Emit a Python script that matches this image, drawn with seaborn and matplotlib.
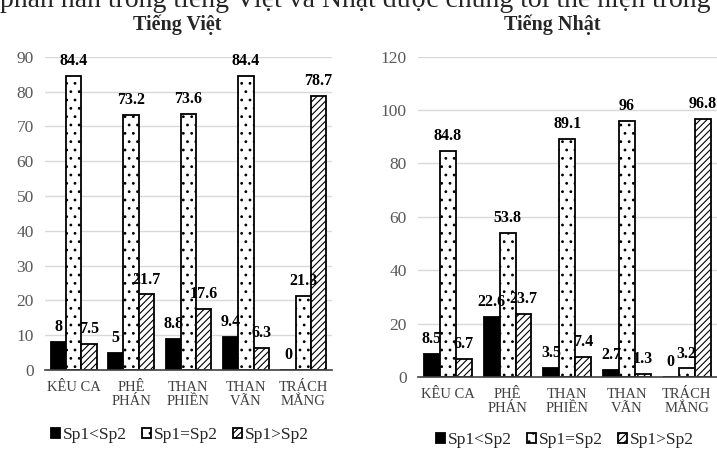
import matplotlib
matplotlib.use("Agg")
import matplotlib.pyplot as plt
import seaborn as sns
import pandas as pd

categories = ["KÊU CA", "PHÊ\nPHÁN", "THAN\nPHIỀN", "THAN\nVÃN", "TRÁCH\nMẮNG"]
series = ["Sp1<Sp2", "Sp1=Sp2", "Sp1>Sp2"]

viet_lt = [8, 5, 8.8, 9.4, 0]
viet_eq = [84.4, 73.2, 73.6, 84.4, 21.3]
viet_gt = [7.5, 21.7, 17.6, 6.3, 78.7]

nhat_lt = [8.5, 22.6, 3.5, 2.7, 0]
nhat_eq = [84.8, 53.8, 89.1, 96, 3.2]
nhat_gt = [6.7, 23.7, 7.4, 1.3, 96.8]

title_left = "Tiếng Việt"
title_right = "Tiếng Nhật"
top_text = "phàn nàn trong tiếng Việt và Nhật được chúng tôi thể hiện trong"

sns.set_theme(style="white")
plt.rcParams["font.family"] = ["Liberation Serif", "DejaVu Serif"]
plt.rcParams["hatch.linewidth"] = 0.8

def long_df(lt, eq, gt):
    rows = []
    for s, vals in zip(series, [lt, eq, gt]):
        for c, v in zip(categories, vals):
            rows.append({"cat": c, "series": s, "value": v})
    return pd.DataFrame(rows)

W, H = 717, 449
fig = plt.figure(figsize=(W / 100, H / 100), dpi=100)

ax1 = fig.add_axes([45 / W, 1 - 370 / H, (332 - 45) / W, (370 - 56.7) / H])
ax2 = fig.add_axes([418 / W, 1 - 377 / H, (716.5 - 418) / W, (377 - 56.7) / H])

palette = ["black", "white", "white"]
hatches = ["", "..", "/////"]

def draw(ax, df, ymax, step, legend_xy):
    sns.barplot(data=df, x="cat", y="value", hue="series", palette=palette,
                order=categories, hue_order=series, width=0.8, gap=0,
                edgecolor="black", linewidth=1.3, ax=ax, legend=False, saturation=1)
    for cont, h in zip(ax.containers, hatches):
        for p in cont.patches:
            p.set_hatch(h)
            p.set_edgecolor("black")
        ax.bar_label(cont, labels=[f"{v:g}" for v in cont.datavalues], padding=5,
                     fontsize=11.5, fontweight="bold", color="black")
    ax.set_ylim(0, ymax)
    ax.set_yticks(range(0, ymax + 1, step))
    ax.yaxis.grid(True, color="#d9d9d9", linewidth=1)
    ax.set_axisbelow(True)
    ax.set_xlabel("")
    ax.set_ylabel("")
    for s in ["top", "right", "left"]:
        ax.spines[s].set_visible(False)
    ax.spines["bottom"].set_color("#404040")
    ax.spines["bottom"].set_linewidth(1.2)
    ax.tick_params(axis="y", labelsize=12.5, colors="#595959", length=0, pad=8)
    ax.tick_params(axis="x", labelsize=10.5, colors="#404040", length=0, pad=8)
    for t in ax.get_xticklabels():
        t.set_linespacing(1.1)
    ax.set_xlim(-0.5, 4.5)
    fig.legend(handles=list(ax.containers), labels=series, loc="center",
               bbox_to_anchor=legend_xy, ncol=3, frameon=False, fontsize=12.5,
               handlelength=0.5, handleheight=0.5, handletextpad=0.15,
               columnspacing=0.9)

draw(ax1, long_df(viet_lt, viet_eq, viet_gt), 90, 10, (180 / W, 1 - 435 / H))
draw(ax2, long_df(nhat_lt, nhat_eq, nhat_gt), 120, 20, (565 / W, 1 - 440 / H))

fig.text(177 / W, 1 - 25 / H, title_left, ha="center", va="center",
         fontsize=14.5, fontweight="bold")
fig.text(552 / W, 1 - 25 / H, title_right, ha="center", va="center",
         fontsize=14.5, fontweight="bold")
fig.text(0 / W, 1 - 7 / H, top_text, ha="left", va="baseline", fontsize=20)

fig.savefig("out.png", dpi=100)
